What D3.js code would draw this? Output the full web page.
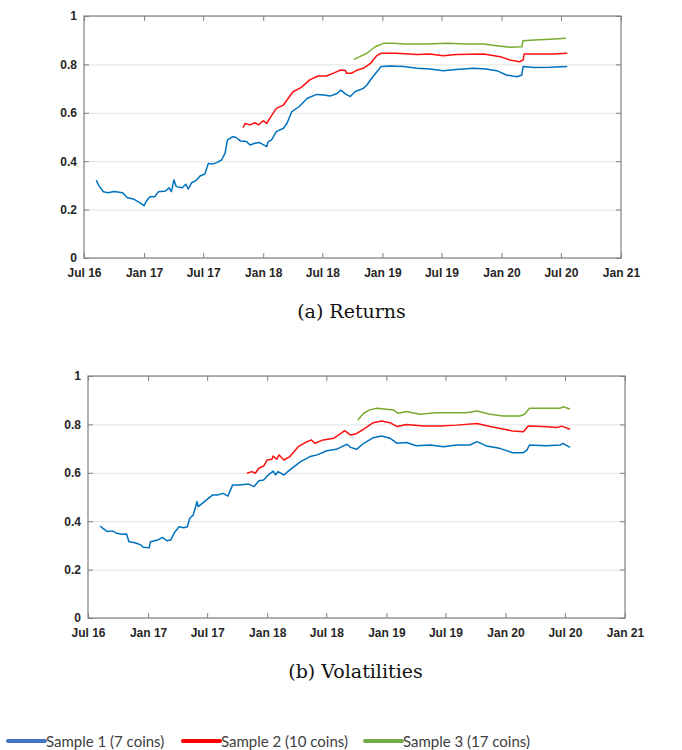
<!DOCTYPE html>
<html>
<head>
<meta charset="utf-8">
<script src="https://cdn.jsdelivr.net/npm/d3@7"></script>
<style>
  body { margin: 0; background: #fff; }
  svg { display: block; }
</style>
</head>
<body>
<div class="visHolder"></div>
<script>
// values are [decimal year, value]
const s1Returns = [[2016.60,.322],[2016.62,.30],[2016.66,.274],[2016.70,.27],[2016.75,.275],[2016.82,.27],[2016.86,.249],[2016.91,.244],[2016.96,.23],[2017.00,.216],[2017.02,.236],[2017.05,.253],[2017.09,.253],[2017.12,.274],[2017.18,.277],[2017.21,.29],[2017.23,.274],[2017.25,.322],[2017.27,.295],[2017.32,.29],[2017.35,.305],[2017.37,.285],[2017.40,.311],[2017.44,.322],[2017.47,.339],[2017.51,.347],[2017.54,.391],[2017.57,.388],[2017.61,.394],[2017.65,.405],[2017.68,.433],[2017.70,.488],[2017.74,.501],[2017.77,.499],[2017.81,.483],[2017.86,.481],[2017.89,.467],[2017.93,.474],[2017.97,.477],[2018.03,.46],[2018.04,.48],[2018.07,.488],[2018.11,.522],[2018.17,.536],[2018.20,.557],[2018.24,.605],[2018.30,.625],[2018.37,.66],[2018.45,.676],[2018.51,.674],[2018.56,.669],[2018.62,.68],[2018.65,.694],[2018.69,.678],[2018.73,.667],[2018.77,.687],[2018.84,.701],[2018.87,.715],[2018.92,.749],[2018.99,.791],[2019.06,.793],[2019.18,.791],[2019.29,.784],[2019.40,.781],[2019.51,.774],[2019.62,.779],[2019.76,.784],[2019.87,.781],[2019.96,.774],[2020.04,.756],[2020.13,.749],[2020.17,.756],[2020.18,.791],[2020.27,.787],[2020.41,.788],[2020.55,.791]];
const s2Returns = [[2017.83,.539],[2017.85,.556],[2017.89,.55],[2017.93,.559],[2017.96,.55],[2018.00,.567],[2018.03,.556],[2018.06,.581],[2018.11,.618],[2018.17,.632],[2018.21,.66],[2018.25,.687],[2018.32,.705],[2018.39,.736],[2018.46,.752],[2018.53,.752],[2018.60,.766],[2018.65,.777],[2018.69,.775],[2018.70,.763],[2018.74,.763],[2018.79,.777],[2018.84,.784],[2018.90,.804],[2018.95,.835],[2018.99,.846],[2019.12,.846],[2019.29,.841],[2019.40,.843],[2019.51,.836],[2019.62,.841],[2019.85,.843],[2019.99,.832],[2020.07,.818],[2020.15,.811],[2020.18,.818],[2020.19,.843],[2020.32,.843],[2020.43,.843],[2020.55,.846]];
const s3Returns = [[2018.76,.821],[2018.81,.832],[2018.87,.846],[2018.94,.873],[2019.01,.887],[2019.09,.887],[2019.20,.884],[2019.37,.884],[2019.54,.887],[2019.71,.884],[2019.85,.884],[2019.96,.877],[2020.07,.871],[2020.17,.873],[2020.18,.898],[2020.27,.901],[2020.41,.904],[2020.54,.908]];

const s1Vol = [[2016.60,.380],[2016.62,.371],[2016.66,.357],[2016.70,.36],[2016.74,.35],[2016.78,.346],[2016.82,.347],[2016.84,.315],[2016.89,.311],[2016.94,.302],[2016.96,.292],[2017.01,.29],[2017.02,.315],[2017.08,.322],[2017.12,.333],[2017.16,.319],[2017.19,.322],[2017.22,.352],[2017.26,.377],[2017.30,.373],[2017.33,.377],[2017.35,.412],[2017.38,.426],[2017.41,.481],[2017.42,.46],[2017.46,.476],[2017.49,.488],[2017.54,.508],[2017.58,.508],[2017.63,.515],[2017.67,.504],[2017.71,.55],[2017.77,.55],[2017.84,.554],[2017.89,.543],[2017.93,.567],[2017.97,.57],[2018.00,.587],[2018.05,.607],[2018.07,.591],[2018.09,.605],[2018.14,.591],[2018.19,.612],[2018.28,.646],[2018.36,.667],[2018.42,.674],[2018.50,.691],[2018.58,.697],[2018.64,.711],[2018.67,.718],[2018.70,.705],[2018.75,.697],[2018.81,.722],[2018.89,.745],[2018.96,.752],[2019.03,.743],[2019.09,.722],[2019.17,.725],[2019.25,.712],[2019.37,.715],[2019.48,.708],[2019.59,.715],[2019.70,.715],[2019.76,.729],[2019.84,.711],[2019.95,.701],[2020.06,.683],[2020.15,.683],[2020.18,.694],[2020.20,.715],[2020.34,.712],[2020.46,.715],[2020.48,.722],[2020.54,.705]];
const s2Vol = [[2017.83,.598],[2017.87,.605],[2017.90,.598],[2017.93,.619],[2017.97,.628],[2018.00,.653],[2018.04,.656],[2018.05,.669],[2018.08,.656],[2018.10,.674],[2018.14,.653],[2018.19,.667],[2018.26,.708],[2018.32,.725],[2018.37,.736],[2018.40,.722],[2018.47,.736],[2018.56,.743],[2018.61,.76],[2018.65,.774],[2018.70,.756],[2018.74,.76],[2018.81,.78],[2018.89,.807],[2018.96,.814],[2019.03,.807],[2019.09,.791],[2019.17,.80],[2019.31,.793],[2019.45,.793],[2019.59,.797],[2019.76,.804],[2019.87,.791],[2019.98,.781],[2020.06,.773],[2020.15,.77],[2020.19,.793],[2020.32,.791],[2020.43,.787],[2020.47,.793],[2020.54,.78]];
const s3Vol = [[2018.76,.818],[2018.81,.846],[2018.86,.86],[2018.92,.867],[2019.00,.863],[2019.06,.86],[2019.10,.846],[2019.17,.853],[2019.28,.842],[2019.42,.848],[2019.56,.848],[2019.67,.848],[2019.76,.855],[2019.87,.842],[2019.98,.835],[2020.12,.835],[2020.16,.842],[2020.20,.867],[2020.34,.867],[2020.46,.867],[2020.48,.873],[2020.54,.864]];

const xTickDates = ["2016-07-01","2017-01-01","2017-07-01","2018-01-01","2018-07-01","2019-01-01","2019-07-01","2020-01-01","2020-07-01","2021-01-01"];
const xTickLabels = ["Jul 16","Jan 17","Jul 17","Jan 18","Jul 18","Jan 19","Jul 19","Jan 20","Jul 20","Jan 21"];
const yTicks = [0, 0.2, 0.4, 0.6, 0.8, 1];
const yTickLabels = ["0", "0.2", "0.4", "0.6", "0.8", "1"];
const captions = ["(a) Returns", "(b) Volatilities"];
const seriesNames = ["Sample 1 (7 coins)", "Sample 2 (10 coins)", "Sample 3 (17 coins)"];

const lineColors = ["#0072BD", "#FF1010", "#77AC30"];
const legendColors = ["#4472C4", "#FF0000", "#70AD47"];

const fullWidth = 682;
const fullHeight = 750;

const toDate = t => {
    const yr = Math.floor(t);
    const a = new Date(yr, 0, 1), b = new Date(yr + 1, 0, 1);
    return new Date(+a + (t - yr) * (b - a));
};
const parse = d3.timeParse("%Y-%m-%d");

const svg = d3.select(".visHolder")
    .append("svg")
    .attr("width", fullWidth)
    .attr("height", fullHeight);

function drawPanel(left, top, series, caption, capY) {
    const w = 537, h = 242;
    const g = svg.append("g").attr("transform", "translate(" + left + "," + top + ")");

    const xScale = d3.scaleTime()
        .domain([parse(xTickDates[0]), parse(xTickDates[xTickDates.length - 1])])
        .range([0, w]);
    const yScale = d3.scaleLinear().domain([0, 1]).range([h, 0]);

    // grid
    g.append("g")
        .call(d3.axisLeft(yScale).tickValues(yTicks).tickSize(-w).tickFormat(""))
        .call(a => a.select(".domain").remove())
        .call(a => a.selectAll("line").attr("stroke", "#e3e3e3"));

    const styleAxis = a => {
        a.select(".domain").remove();
        a.selectAll("line").attr("stroke", "#808080");
        a.selectAll("text")
            .attr("fill", "#262626")
            .style("font-family", "'Liberation Sans', Arial, sans-serif")
            .style("font-weight", "bold")
            .style("font-size", "12px");
    };

    g.append("g")
        .attr("transform", "translate(0," + h + ")")
        .call(d3.axisBottom(xScale).tickValues(xTickDates.map(parse))
            .tickFormat((d, i) => xTickLabels[i]).tickSizeInner(-5).tickSizeOuter(0).tickPadding(10))
        .call(styleAxis);
    g.append("g")
        .call(d3.axisTop(xScale).tickValues(xTickDates.map(parse))
            .tickFormat("").tickSizeInner(-5).tickSizeOuter(0))
        .call(styleAxis);
    g.append("g")
        .call(d3.axisLeft(yScale).tickValues(yTicks)
            .tickFormat((d, i) => yTickLabels[i]).tickSizeInner(-5).tickSizeOuter(0).tickPadding(7))
        .call(styleAxis);
    g.append("g")
        .attr("transform", "translate(" + w + ",0)")
        .call(d3.axisRight(yScale).tickValues(yTicks)
            .tickFormat("").tickSizeInner(-5).tickSizeOuter(0))
        .call(styleAxis);

    g.append("rect")
        .attr("width", w).attr("height", h)
        .attr("fill", "none")
        .attr("stroke", "#808080")
        .attr("stroke-width", 1.2);

    const line = d3.line()
        .x(d => xScale(toDate(d[0])))
        .y(d => yScale(d[1]));

    series.forEach((s, i) => {
        g.append("path")
            .datum(s)
            .attr("d", line)
            .attr("fill", "none")
            .attr("stroke", lineColors[i])
            .attr("stroke-width", 1.5)
            .attr("stroke-linejoin", "round");
    });

    svg.append("text")
        .attr("x", left + w / 2 - 1)
        .attr("y", capY)
        .attr("text-anchor", "middle")
        .style("font-family", "'DejaVu Serif', serif")
        .style("font-size", "19px")
        .attr("fill", "#111")
        .text(caption);
}

drawPanel(84, 16, [s1Returns, s2Returns, s3Returns], captions[0], 318);
drawPanel(88, 376, [s1Vol, s2Vol, s3Vol], captions[1], 678);

// legend
const legendX = [8, 183, 365];
const legend = svg.append("g").attr("id", "legend");
seriesNames.forEach((name, i) => {
    legend.append("line")
        .attr("x1", legendX[i]).attr("x2", legendX[i] + 37)
        .attr("y1", 741).attr("y2", 741)
        .attr("stroke", legendColors[i])
        .attr("stroke-width", 4)
        .attr("stroke-linecap", "round");
    legend.append("text")
        .attr("x", legendX[i] + 38)
        .attr("y", 746.5)
        .attr("fill", "#404040")
        .style("font-family", "Lato, sans-serif")
        .style("font-size", "15px")
        .text(name);
});
</script>
</body>
</html>
